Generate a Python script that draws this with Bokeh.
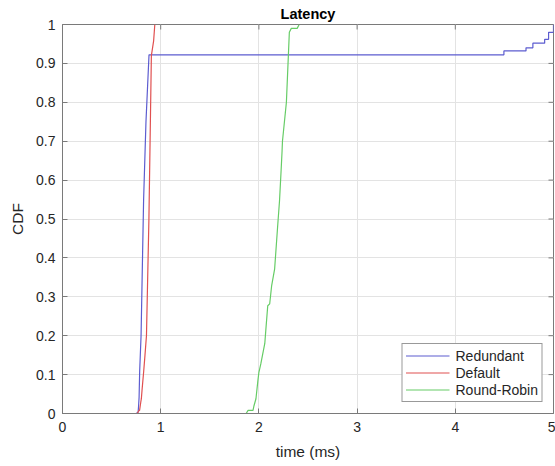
import math
from bokeh.plotting import figure
from bokeh.models import FixedTicker, Range1d, Legend, LegendItem
from bokeh.embed import file_html
from bokeh.resources import INLINE

# ---- data ----
redundant_x = [0.75, 0.77, 0.775, 0.78, 0.786, 0.80, 0.82, 0.826, 0.85, 0.881,
               4.495, 4.495, 4.72, 4.72, 4.79, 4.79, 4.91, 4.91, 4.95, 4.95, 5.0, 5.0]
redundant_y = [0.0, 0.003, 0.02, 0.042, 0.11, 0.20, 0.47, 0.55, 0.75, 0.922,
               0.922, 0.932, 0.932, 0.940, 0.940, 0.952, 0.952, 0.962, 0.962, 0.98, 0.98, 1.0]

default_x = [0.76, 0.78, 0.785, 0.797, 0.803, 0.81, 0.826, 0.84, 0.855, 0.88, 0.905, 0.928, 0.94]
default_y = [0.0, 0.008, 0.008, 0.029, 0.038, 0.06, 0.106, 0.15, 0.20, 0.50, 0.92, 0.958, 1.0]

rr_x = [1.87, 1.89, 1.94, 1.95, 1.97, 1.99, 2.00, 2.02, 2.06, 2.07, 2.09, 2.11, 2.13,
        2.16, 2.19, 2.21, 2.226, 2.236, 2.24, 2.28, 2.30, 2.31, 2.33, 2.39, 2.41]
rr_y = [0.0, 0.008, 0.008, 0.02, 0.038, 0.085, 0.106, 0.128, 0.18, 0.213, 0.277, 0.282, 0.329,
        0.371, 0.478, 0.547, 0.624, 0.675, 0.70, 0.80, 0.92, 0.98, 0.99, 0.99, 1.0]

x_ticks = [0, 1, 2, 3, 4, 5]
y_ticks = [0, 0.1, 0.2, 0.3, 0.4, 0.5, 0.6, 0.7, 0.8, 0.9, 1.0]
y_tick_labels = ["0", "0.1", "0.2", "0.3", "0.4", "0.5", "0.6", "0.7", "0.8", "0.9", "1"]

X_MIN, X_MAX = 0, 5
Y_MIN, Y_MAX = 0, 1

FONT = "Liberation Sans"
TXT = "#262626"
AX = "#7a7a7a"

p = figure(width=555, height=466, output_backend="svg", toolbar_location=None,
           x_range=Range1d(X_MIN, X_MAX), y_range=Range1d(Y_MIN, Y_MAX),
           min_border_left=62, min_border_right=2, min_border_top=24, min_border_bottom=53)

p.title.text = "Latency"
p.title.align = "center"
p.title.vertical_align = "middle"
p.title.text_font = FONT
p.title.text_font_size = "14.5px"
p.title.text_font_style = "bold"
p.title.text_color = "#000000"
p.title.standoff = 4
p.title.offset = 0

p.outline_line_color = AX
p.outline_line_width = 1

p.xaxis.ticker = FixedTicker(ticks=x_ticks)
p.yaxis.ticker = FixedTicker(ticks=y_ticks)
p.yaxis.major_label_overrides = {v: s for v, s in zip(y_ticks, y_tick_labels)}
p.xaxis.major_label_overrides = {v: str(v) for v in x_ticks}
p.xaxis.axis_label = "time (ms)"
p.yaxis.axis_label = "CDF"

for ax in (p.xaxis, p.yaxis):
    ax.axis_line_color = AX
    ax.major_tick_line_color = AX
    ax.major_tick_in = 5
    ax.major_tick_out = 0
    ax.minor_tick_line_color = None
    ax.major_label_text_font = FONT
    ax.major_label_text_font_size = "14px"
    ax.major_label_text_color = TXT
    ax.axis_label_text_font = FONT
    ax.axis_label_text_font_size = "15.5px"
    ax.axis_label_text_font_style = "normal"
    ax.axis_label_text_color = TXT
p.xaxis.major_label_standoff = 8
p.yaxis.major_label_standoff = 7
p.xaxis.axis_label_standoff = 8
p.yaxis.axis_label_standoff = 7

p.grid.grid_line_color = "#e3e3e3"
p.grid.grid_line_width = 1
p.xgrid.ticker = FixedTicker(ticks=x_ticks)
p.ygrid.ticker = FixedTicker(ticks=y_ticks)

# box ticks on the top and right edges (MATLAB style)
p.ray(x=x_ticks, y=Y_MAX, length=5, length_units="screen", angle=-math.pi / 2,
      line_color=AX, line_width=1)
p.ray(x=X_MAX, y=y_ticks, length=5, length_units="screen", angle=math.pi,
      line_color=AX, line_width=1)

r1 = p.line(redundant_x, redundant_y, line_color="#5c5cd0", line_width=1.2)
r2 = p.line(default_x, default_y, line_color="#e05050", line_width=1.2)
r3 = p.line(rr_x, rr_y, line_color="#66cc66", line_width=1.2)

legend = Legend(items=[LegendItem(label="Redundant", renderers=[r1]),
                       LegendItem(label="Default", renderers=[r2]),
                       LegendItem(label="Round-Robin", renderers=[r3])],
                location="bottom_right")
legend.margin = 11
legend.padding = 3
legend.spacing = 0
legend.glyph_width = 44
legend.glyph_height = 17
legend.label_height = 17
legend.label_standoff = 6
legend.label_text_font = FONT
legend.label_text_font_size = "14px"
legend.label_text_color = TXT
legend.border_line_color = "#333333"
legend.border_line_width = 1
legend.background_fill_color = "white"
legend.background_fill_alpha = 1
p.add_layout(legend, "center")

open("out.html", "w").write(file_html(p, INLINE))
